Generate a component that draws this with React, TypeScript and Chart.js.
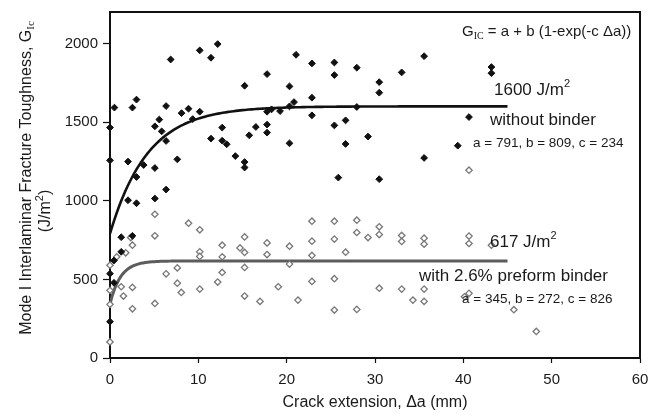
import React, { useEffect, useRef } from "react";
import { Chart, registerables } from "chart.js";

Chart.register(...registerables);

// ---- data ----
const noBinderX = [
  0.5, 2.54, 3.0, 6.35, 6.87, 10.16, 11.43, 12.19, 8.1, 8.89, 10.16, 5.58, 5.08, 5.85, 6.35, 9.36,
  0, 0, 2.04, 3.81, 5.08, 7.62, 3.0, 11.43, 12.7, 12.7, 13.21, 14.19, 15.24, 15.24, 15.24, 15.76,
  16.51, 17.78, 17.78, 17.78, 17.78, 18.29, 19.25, 20.32, 20.32, 20.32, 20.83, 21.06, 22.86, 22.86,
  22.86, 25.4, 25.4, 25.4, 26.67, 26.67, 27.94, 27.94, 29.21, 30.48, 30.48, 25.85, 30.48, 33.02,
  35.56, 43.18, 43.18, 40.64, 39.37, 35.56, 2.04, 3.0, 5.08, 6.35, 1.27, 2.54, 1.27, 0.45, 0, 0.45, 0,
];
const noBinderY = [
  1592, 1592, 1643, 1602, 1898, 1956, 1909, 1996, 1557, 1585, 1566, 1516, 1473, 1441, 1380, 1519,
  1465, 1257, 1249, 1227, 1208, 1263, 1151, 1395, 1465, 1382, 1359, 1284, 1246, 1211, 1731, 1416,
  1469, 1805, 1566, 1484, 1433, 1581, 1570, 1727, 1365, 1600, 1627, 1928, 1873, 1655,
  1543, 1879, 1799, 1479, 1511, 1361, 1846, 1596, 1408, 1754, 1687, 1147, 1137, 1816,
  1919, 1850, 1811, 1532, 1350, 1272, 1003, 984, 1014, 1071, 768, 777, 675, 620, 536, 478, 231,
];
const binderX = [
  40.64, 0.76, 1.78, 2.54, 2.35, 5.08, 5.08, 8.89, 10.16, 10.16, 10.16, 12.7, 12.7, 14.72, 15.24, 15.24,
  17.78, 17.78, 20.32, 20.32, 22.86, 22.86, 22.86, 25.4, 25.4, 27.94, 27.94, 26.67, 29.21, 30.48, 30.48,
  0, 0, 0, 0, 1.27, 1.52, 2.54, 2.54, 5.08, 6.35, 7.62, 7.62, 8.07, 10.16, 12.19, 12.7, 15.24, 15.24,
  16.98, 19.05, 21.28, 22.86, 25.4, 25.4, 27.94, 30.48, 33.02, 33.02, 35.56, 35.56, 40.64, 40.64, 43.18,
  33.02, 34.29, 35.56, 35.56, 40.64, 45.72, 48.26, 40.13,
];
const binderY = [
  1194, 643, 669, 717, 766, 914, 777, 857, 815, 675, 646, 717, 643, 700, 770, 671,
  732, 658, 711, 597, 870, 743, 652, 870, 756, 876, 798, 673, 766, 834, 785,
  590, 430, 341, 102, 453, 394, 449, 313, 347, 535, 573, 476, 417, 438, 483, 544, 576, 394,
  360, 453, 368, 487, 504, 305, 309, 444, 779, 741, 762, 724, 775, 728, 717,
  438, 368, 438, 360, 411, 307, 169, 389,
];
// fit G = a + b (1 - exp(-c * da)), da in metres
const noBinderFit = [791, 809, 234];
const binderFit = [345, 272, 826];
const fitRangeMm = [0, 45];
const xTickValues = [0, 10, 20, 30, 40, 50, 60];
const yTickValues = [0, 500, 1000, 1500, 2000];

const SANS = '"Liberation Sans", Arial, Helvetica, sans-serif';
const SERIF = '"Liberation Serif", "Times New Roman", serif';

function fitCurve(p: number[]) {
  const pts: { x: number; y: number }[] = [];
  const [a, b, c] = p;
  for (let i = 0; i <= 180; i++) {
    const x = fitRangeMm[0] + ((fitRangeMm[1] - fitRangeMm[0]) * i) / 180;
    pts.push({ x, y: a + b * (1 - Math.exp((-c * x) / 1000)) });
  }
  return pts;
}

type Run = [string, string, number];
function drawRuns(ctx: CanvasRenderingContext2D, x: number, y: number, runs: Run[]) {
  let cx = x;
  for (const [t, f, dy] of runs) {
    ctx.font = f;
    ctx.fillText(t, cx, y + dy);
    cx += ctx.measureText(t).width;
  }
  return cx - x;
}
function runsWidth(ctx: CanvasRenderingContext2D, runs: Run[]) {
  let w = 0;
  for (const [t, f] of runs) {
    ctx.font = f;
    w += ctx.measureText(t).width;
  }
  return w;
}

const annotationPlugin = {
  id: "annotations",
  beforeDatasetsDraw(chart: any) {
    const { ctx, chartArea } = chart;
    ctx.save();
    ctx.strokeStyle = "#111";
    ctx.lineWidth = 2;
    ctx.strokeRect(chartArea.left, chartArea.top, chartArea.right - chartArea.left, chartArea.bottom - chartArea.top);
    ctx.restore();
  },
  afterDraw(chart: any) {
    const ctx: CanvasRenderingContext2D = chart.ctx;
    ctx.save();
    ctx.fillStyle = "#1a1a1a";
    ctx.textBaseline = "alphabetic";
    ctx.textAlign = "left";

    // y-axis title (two lines, rotated)
    const l1: Run[] = [
      ["Mode I Interlaminar Fracture Toughness, G", `16px ${SANS}`, 0],
      ["Ic", `11px ${SERIF}`, 3],
    ];
    const l2: Run[] = [
      ["(J/m", `16px ${SANS}`, 0],
      ["2", `11px ${SANS}`, -7],
      [")", `16px ${SANS}`, 0],
    ];
    ctx.save();
    ctx.translate(25, 178);
    ctx.rotate(-Math.PI / 2);
    drawRuns(ctx, -runsWidth(ctx, l1) / 2, 5.7, l1);
    ctx.restore();
    ctx.save();
    ctx.translate(44, 211);
    ctx.rotate(-Math.PI / 2);
    drawRuns(ctx, -runsWidth(ctx, l2) / 2, 5.7, l2);
    ctx.restore();

    // formula
    drawRuns(ctx, 462, 36, [
      ["G", `15px ${SANS}`, 0],
      ["IC", `10px ${SERIF}`, 3],
      [" = a + b (1-exp(-c \u0394a))", `15px ${SANS}`, 0],
    ]);
    // without binder
    drawRuns(ctx, 494, 95, [
      ["1600 J/m", `17px ${SANS}`, 0],
      ["2", `11px ${SANS}`, -8],
    ]);
    drawRuns(ctx, 490, 124.5, [["without binder", `17px ${SANS}`, 0]]);
    drawRuns(ctx, 473, 146.5, [["a = 791, b = 809, c = 234", `13.5px ${SANS}`, 0]]);
    // with binder
    drawRuns(ctx, 490, 247, [
      ["617 J/m", `17px ${SANS}`, 0],
      ["2", `11px ${SANS}`, -8],
    ]);
    drawRuns(ctx, 419, 281, [["with 2.6% preform binder", `17px ${SANS}`, 0]]);
    drawRuns(ctx, 462, 303, [["a = 345, b = 272, c = 826", `13.5px ${SANS}`, 0]]);
    ctx.restore();
  },
};

export default function App() {
  const ref = useRef<HTMLCanvasElement>(null);
  useEffect(() => {
    document.body.style.margin = "0";
    const noBinderPts = noBinderX.map((x, i) => ({ x, y: noBinderY[i] }));
    const binderPts = binderX.map((x, i) => ({ x, y: binderY[i] }));
    const chart = new Chart(ref.current as HTMLCanvasElement, {
      type: "scatter",
      data: {
        datasets: [
          {
            label: "without binder",
            data: noBinderPts,
            pointStyle: "rectRot",
            pointRadius: 3.4,
            pointBackgroundColor: "#111",
            pointBorderColor: "#111",
            pointBorderWidth: 1,
            clip: false,
          } as any,
          {
            label: "with 2.6% preform binder",
            data: binderPts,
            pointStyle: "rectRot",
            pointRadius: 3.2,
            pointBackgroundColor: "#fff",
            pointBorderColor: "#777",
            pointBorderWidth: 1.3,
            clip: false,
          } as any,
          {
            label: "fit without binder",
            data: fitCurve(noBinderFit),
            showLine: true,
            borderColor: "#111",
            borderWidth: 2.6,
            pointRadius: 0,
            tension: 0,
          } as any,
          {
            label: "fit with binder",
            data: fitCurve(binderFit),
            showLine: true,
            borderColor: "#5c5c5c",
            borderWidth: 3,
            pointRadius: 0,
            tension: 0,
          } as any,
        ],
      },
      options: {
        animation: false,
        responsive: false,
        devicePixelRatio: 1,
        layout: { padding: { top: 12, right: 20, left: 0, bottom: 0 } },
        plugins: { legend: { display: false }, tooltip: { enabled: false } },
        scales: {
          x: {
            type: "linear",
            min: 0,
            max: 60,
            afterBuildTicks: (s: any) => {
              s.ticks = xTickValues.map((v) => ({ value: v }));
            },
            afterFit: (s: any) => {
              s.height = 58;
              s.paddingLeft = 0;
              s.paddingRight = 0;
            },
            grid: { display: true, drawOnChartArea: false, drawTicks: true, tickLength: 5, tickColor: "#111", tickWidth: 1.2 },
            border: { display: true, color: "#111", width: 2 },
            ticks: {
              color: "#1a1a1a",
              padding: 8,
              font: { family: SANS, size: 15 },
              maxRotation: 0,
              callback: (v: any) => String(v),
            },
            title: {
              display: true,
              text: "Crack extension, \u0394a (mm)",
              color: "#1a1a1a",
              font: { family: SANS, size: 16 },
              padding: { top: 0, bottom: 4 },
            },
          },
          y: {
            type: "linear",
            min: 0,
            max: 2200,
            afterBuildTicks: (s: any) => {
              s.ticks = yTickValues.map((v) => ({ value: v }));
            },
            afterFit: (s: any) => {
              s.width = 110;
              s.paddingTop = 0;
              s.paddingBottom = 0;
            },
            grid: { display: true, drawOnChartArea: false, drawTicks: true, tickLength: 7, tickColor: "#111", tickWidth: 1.2 },
            border: { display: true, color: "#111", width: 2 },
            ticks: {
              color: "#1a1a1a",
              padding: 5,
              font: { family: SANS, size: 15 },
              callback: (v: any) => String(v),
            },
          },
        },
      },
      plugins: [annotationPlugin],
    } as any);
    return () => chart.destroy();
  }, []);
  return (
    <div style={{ width: 660, height: 416 }}>
      <canvas ref={ref} width={660} height={416} style={{ display: "block", width: 660, height: 416 }} />
    </div>
  );
}
